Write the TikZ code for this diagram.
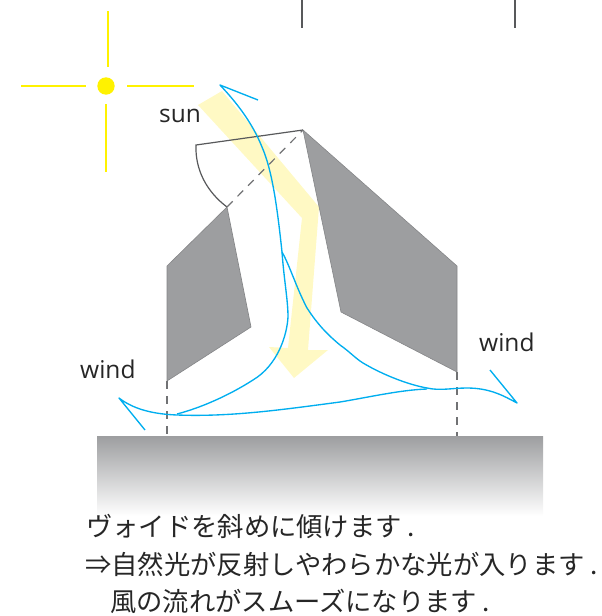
\documentclass[tikz,border=0pt]{standalone}
\usepackage{fontspec}
\setmainfont{Open Sans}
\newfontfamily\jpfont{Noto Sans CJK JP}
\definecolor{sunyellow}{HTML}{FFF200}
\definecolor{beam}{HTML}{FFF9C4}
\definecolor{wall}{HTML}{9D9EA0}
\definecolor{edge}{HTML}{58595B}
\definecolor{breeze}{HTML}{00AEEF}
\tikzset{
  sunray/.style={sunyellow,line width=2.2pt},
  solid wall/.style={fill=wall,draw=wall!85!black,line width=0.6pt,line join=miter},
  outline/.style={edge,line width=1.2pt},
  gridline/.style={edge!85,line width=1.2pt,dash pattern=on 8pt off 7pt},
  airflow/.style={breeze,line width=1.35pt,line join=round},
  latin/.style={text=black!85,font=\fontsize{24.5}{28}\selectfont,inner sep=0pt,anchor=base west},
  jp/.style={text=black!85,font=\jpfont\fontsize{26.3}{30}\selectfont,inner sep=0pt,anchor=base west}
}
\begin{document}
\begin{tikzpicture}[x=1pt,y=-1pt]
\useasboundingbox (0,0) rectangle (602,616);

% sun
\fill[sunyellow] (106,86) circle (8.7);
\draw[sunray] (21,86) -- (86,86);
\draw[sunray] (127,86) -- (194,86);
\draw[sunray] (108,11) -- (108,67);
\draw[sunray] (106,104) -- (106,172);

% reflected light beam
\fill[beam] (198,105) -- (222,91) -- (319,207) -- (308,350) -- (328,350)
  -- (294,378) -- (269,347) -- (288,348) -- (302,218) -- cycle;

% grid ticks along the top edge
\draw[outline] (302,0) -- (302,28);
\draw[outline] (515,0) -- (515,28);

% inclined walls
\filldraw[solid wall] (167,266) -- (227,207) -- (251,327) -- (167,381) -- cycle;
\filldraw[solid wall] (303,130) -- (457,266) -- (457,372) -- (341,312) -- cycle;

% roof and opening sweep
\coordinate (roofL) at (196,145);
\coordinate (roofR) at (303,130);
\coordinate (hinge) at (227,207);
\draw[outline] (hinge) .. controls (207,192) and (195,170) .. (roofL) -- (roofR);
\draw[gridline] (hinge) -- (roofR);

% vertical grid lines down to the ground
\draw[gridline] (167,381) -- (167,436);
\draw[gridline] (457,372) -- (457,436);

% ground
\shade[top color=wall,bottom color=white] (97,436) rectangle (543,516);

% air currents
\draw[airflow] (258,100) -- (220,85)
  .. controls (236,102) and (252,122) .. (262,147)
  .. controls (272,170) and (277,205) .. (282,252)
  .. controls (284,280) and (288,300) .. (288,317)
  .. controls (287,335) and (278,365) .. (253,380)
  .. controls (228,396) and (200,408) .. (177,414);
\draw[airflow] (282,252)
  .. controls (290,266) and (296,287) .. (307,308)
  .. controls (318,325) and (328,335) .. (340,345)
  .. controls (350,352) and (355,358) .. (363,363)
  .. controls (385,376) and (410,385) .. (427,388)
  .. controls (440,391) and (452,388) .. (467,388)
  .. controls (490,388) and (504,396) .. (517,403) -- (490,370);
\draw[airflow] (145,430) -- (119,398)
  .. controls (132,408) and (150,414) .. (177,415)
  .. controls (230,417) and (280,410) .. (340,402)
  .. controls (370,397) and (400,390) .. (427,389);

% labels
\node[latin] (sunlabel) at (159,122) {sun};
\node[latin] (windleft) at (80,378) {wind};
\node[latin] (windright) at (479,351) {wind};
\node[jp] (lineone) at (86,536) {ヴォイドを斜めに傾けます .};
\node[jp] (linetwo) at (85,574) {⇒自然光が反射しやわらかな光が入ります .};
\node[jp] (linethree) at (110,611) {風の流れがスムーズになります .};
\end{tikzpicture}
\end{document}
